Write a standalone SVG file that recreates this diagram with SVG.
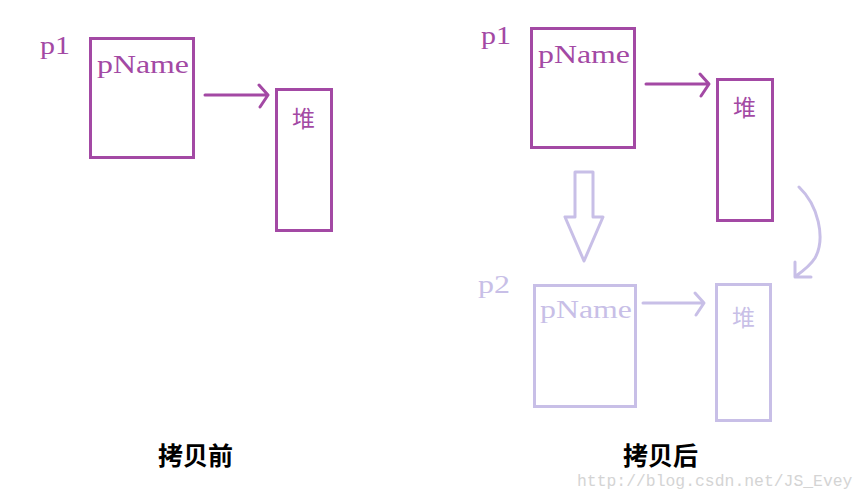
<svg xmlns="http://www.w3.org/2000/svg" width="866" height="494" viewBox="0 0 866 494">
<style>
.box{fill:none;stroke-width:3}
.d{stroke:#a349a4;fill:none}
.l{stroke:#c8bfe7;fill:none}
.td{fill:#a349a4}
.tl{fill:#c8bfe7}
.ser{font-family:"Liberation Serif","Noto Sans CJK SC",serif}
.cap{font-family:"Noto Sans CJK SC",serif;font-weight:bold;font-size:25px;fill:#000}
.wm{font-family:"Liberation Mono",monospace;font-size:16.4px;fill:#d4d4d4}
</style>
<rect width="866" height="494" fill="#fff"/>
<g id="left-p1">
<text class="ser td" x="40" y="54" font-size="25" textLength="30" lengthAdjust="spacingAndGlyphs">p1</text>
<rect class="box d" x="90.5" y="38.5" width="103" height="119"/>
<text class="ser td" x="97" y="73" font-size="26" textLength="92" lengthAdjust="spacingAndGlyphs">pName</text>
</g>
<g id="left-heap">
<rect class="box d" x="276.5" y="89.5" width="55" height="141"/>
<text class="ser td" x="292" y="127" font-size="23">堆</text>
</g>
<g id="right-p1">
<text class="ser td" x="481" y="44" font-size="25" textLength="30" lengthAdjust="spacingAndGlyphs">p1</text>
<rect class="box d" x="531.5" y="28.5" width="103" height="119"/>
<text class="ser td" x="538" y="63" font-size="26" textLength="92" lengthAdjust="spacingAndGlyphs">pName</text>
</g>
<g id="right-heap1">
<rect class="box d" x="717.5" y="79.5" width="55" height="141"/>
<text class="ser td" x="733" y="116" font-size="23">堆</text>
</g>
<g id="right-p2">
<text class="ser tl" x="478" y="293" font-size="25" textLength="32" lengthAdjust="spacingAndGlyphs">p2</text>
<rect class="box l" x="534.5" y="285.5" width="101" height="121"/>
<text class="ser tl" x="540" y="318" font-size="26" textLength="92" lengthAdjust="spacingAndGlyphs">pName</text>
</g>
<g id="right-heap2">
<rect class="box l" x="716.5" y="284.5" width="54" height="136"/>
<text class="ser tl" x="732" y="326" font-size="23">堆</text>
</g>
<g id="connectors" stroke-width="3" stroke-linecap="round" stroke-linejoin="round">
<path class="d" d="M205 95 H267 M259 85 L268 95 L260 107"/>
<path class="d" d="M646 84 H708 M700 74 L709 84 L701 96"/>
<path class="l" d="M643 303 H703 M695 293 L704 303 L696 315"/>
<path class="l" d="M575 172 H593 V217 H603 L584 261 L565 217 H575 Z"/>
<path class="l" d="M799 187 C818 205 826 238 815 258 C810 266 803 271 796 276 M795 262 V277 H811"/>
</g>
<text class="cap" x="158" y="465">拷贝前</text>
<text class="cap" x="623" y="465">拷贝后</text>
<text class="wm" x="577" y="486">http://blog.csdn.net/JS_Evey</text>
</svg>
